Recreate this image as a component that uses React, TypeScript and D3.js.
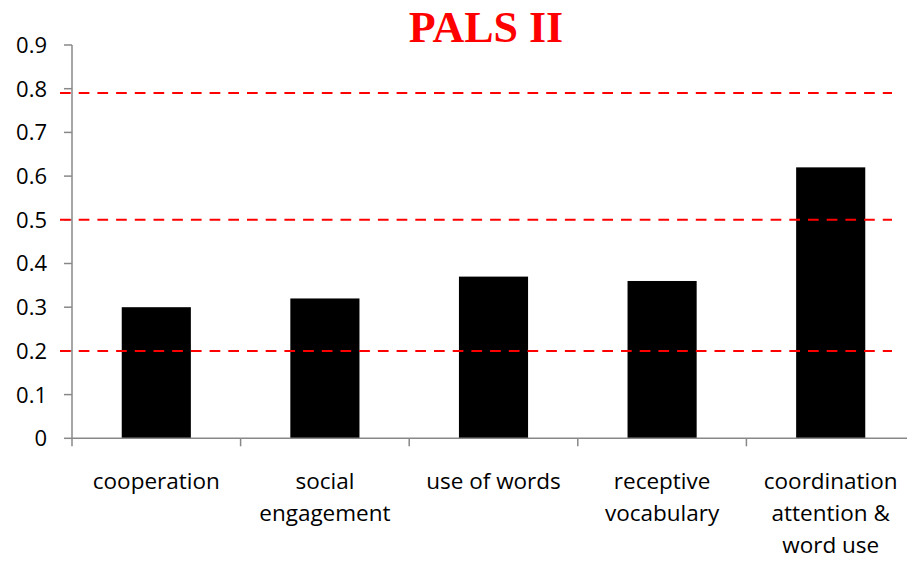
import React from "react";
import * as d3 from "d3";

const categories: string[][] = [
  ["cooperation"],
  ["social", "engagement"],
  ["use of words"],
  ["receptive", "vocabulary"],
  ["coordination", "attention &", "word use"],
];
const values: number[] = [0.3, 0.32, 0.37, 0.36, 0.62];
const yTicks: number[] = [0, 0.1, 0.2, 0.3, 0.4, 0.5, 0.6, 0.7, 0.8, 0.9];
const refLines: number[] = [0.2, 0.5, 0.79];
const title = "PALS II";

export default function App() {
  const W = 907, H = 561;
  const left = 72, right = 915, top = 45, bottom = 438.3;
  const x = d3.scaleBand<number>().domain(d3.range(categories.length)).range([left, right]).paddingInner(0.59).paddingOuter(0.295);
  const band = d3.scaleBand<number>().domain(d3.range(categories.length)).range([left, right]);
  const y = d3.scaleLinear().domain([0, 0.9]).range([bottom, top]);
  const axisColor = "#888888";
  const font = "'Open Sans', sans-serif";
  return (
    <svg width={W} height={H} style={{ position: "absolute", left: 0, top: 0, background: "#fff" }}>
      <text x={486} y={42} textAnchor="middle" fontFamily="'Liberation Serif', 'Times New Roman', serif" fontWeight="bold" fontSize={44} fill="#ff0000">{title}</text>
      {/* y axis */}
      <line x1={left} x2={left} y1={top} y2={bottom} stroke={axisColor} strokeWidth={1.5} />
      {yTicks.map((t) => (
        <g key={t}>
          <line x1={left - 8} x2={left} y1={y(t)} y2={y(t)} stroke={axisColor} strokeWidth={1.5} />
          <text x={47} y={y(t)} dy="0.36em" textAnchor="end" fontFamily={font} fontSize={22} fill="#000">{t === 0 ? "0" : d3.format(".1f")(t)}</text>
        </g>
      ))}
      {/* bars */}
      {values.map((v, i) => (
        <rect key={i} x={x(i)} y={y(v)} width={x.bandwidth()} height={bottom - y(v)} fill="#000" />
      ))}
      {/* x axis */}
      <line x1={left} x2={right} y1={bottom} y2={bottom} stroke={axisColor} strokeWidth={1.5} />
      {d3.range(categories.length + 1).map((i) => {
        const bx = left + i * band.bandwidth();
        return <line key={i} x1={bx} x2={bx} y1={bottom} y2={bottom + 8} stroke={axisColor} strokeWidth={1.5} />;
      })}
      {categories.map((lines, i) => (
        <text key={i} textAnchor="middle" fontFamily={font} fontSize={22.5} fill="#000">
          {lines.map((l, j) => (
            <tspan key={j} x={(band(i) as number) + band.bandwidth() / 2} y={489 + j * 32}>{l}</tspan>
          ))}
        </text>
      ))}
      {/* red reference lines */}
      {refLines.map((r) => (
        <line key={r} x1={60} x2={892} y1={y(r)} y2={y(r)} stroke="#ff0000" strokeWidth={2} strokeDasharray="10.7 8" />
      ))}
    </svg>
  );
}
